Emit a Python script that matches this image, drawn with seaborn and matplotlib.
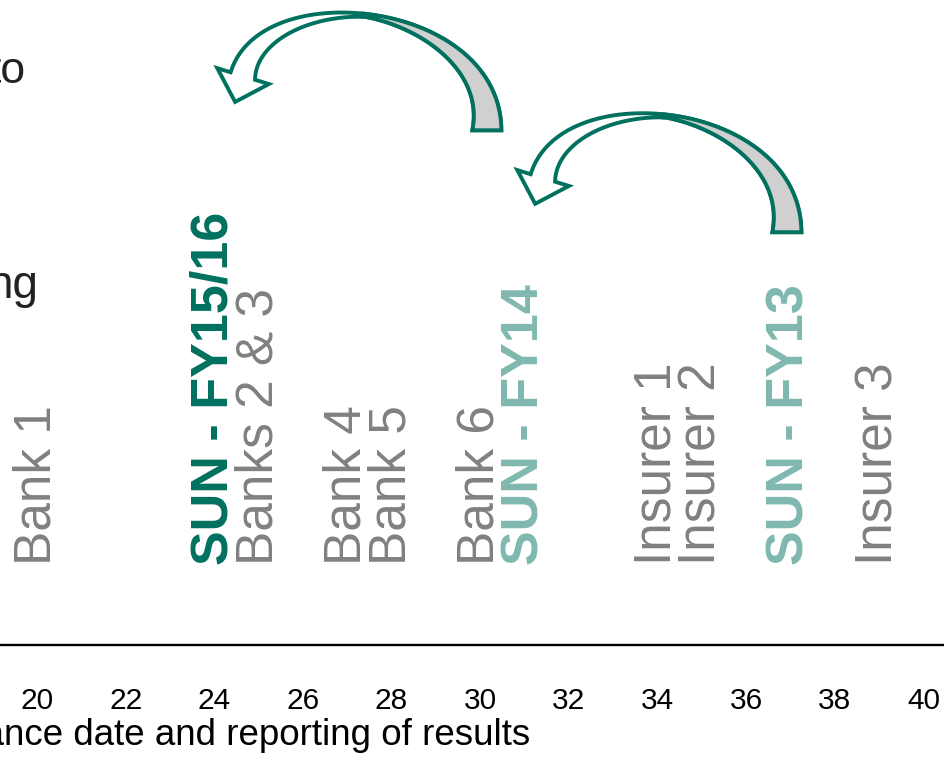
import numpy as np
import matplotlib.pyplot as plt
import seaborn as sns
from matplotlib.patches import Polygon

# reporting gap (days) for each company
labels = ["Bank 1", "SUN - FY15/16", "Banks 2 & 3", "Bank 4", "Bank 5", "Bank 6",
          "SUN - FY14", "Insurer 1", "Insurer 2", "SUN - FY13", "Insurer 3"]
days = [20, 24, 25, 27, 28, 30, 31, 34, 35, 37, 39]
groups = ["peer", "sun_now", "peer", "peer", "peer", "peer",
          "sun_prev", "peer", "peer", "sun_prev", "peer"]
tick_days = list(range(20, 41, 2))

# curved arrows (tail day, head day, tail/head/top heights in axes units)
arrow_tail_x = [30.15, 36.92]
arrow_head_x = [24.65, 31.42]
arrow_tail_y = [0.798, 0.640]
arrow_head_y = [0.882, 0.724]
arrow_top_y = [0.955, 0.799]

colors = {"peer": "#808080", "sun_now": "#00705F", "sun_prev": "#80B8B0"}
teal = "#00705F"

sns.set_theme(style="white")
plt.rcParams["font.family"] = ["Liberation Sans", "DejaVu Sans"]

fig = plt.figure(figsize=(9.45, 7.59), dpi=100)
ax = fig.add_axes([-0.89884, 0.15020, 1.92286, 0.84980])
ax.set_xlim(0, 41)
ax.set_ylim(0, 1)

for x, lab, g in zip(days, labels, groups):
    ax.text(x, 0.124, lab, rotation=90, ha="center", va="bottom",
            fontsize=37.5 if g != "peer" else 37,
            color=colors[g], fontweight="normal" if g == "peer" else "bold")

ax.set_xticks(tick_days)
ax.set_xticklabels([str(d) for d in tick_days])
ax.tick_params(axis="x", length=0, pad=30, labelsize=21.5, labelcolor="black")
ax.set_yticks([])
sns.despine(ax=ax, left=True)
ax.spines["bottom"].set_color("black")
ax.spines["bottom"].set_linewidth(1.7)

ax.set_xlabel("Days between balance date and reporting of results",
              fontsize=26.5, color="black", ha="right")
ax.xaxis.set_label_coords(0.7591, -0.1125)

# fragments of the side commentary box
fig.text(26 / 945, 1 - 83 / 759, "to", ha="right", va="baseline",
         fontsize=32, color="#222222")
fig.text(38 / 945, 1 - 298 / 759, "ng", ha="right", va="baseline",
         fontsize=33, color="#222222")


def curved_arrow(ax, x0, y0, x1, y1, ytop):
    to_disp = ax.transData
    p0 = to_disp.transform((x0, y0))
    p3 = to_disp.transform((x1, y1))
    peak = to_disp.transform((x0, ytop))[1]
    d = np.array([-0.294, -0.956])
    k = (8 * peak - 4 * p0[1] - 4 * p3[1]) / 6.768
    p1 = p0 + np.array([0, 1.3 * k])
    p2 = p3 - k * d
    t = np.linspace(0, 1, 120)[:, None]
    b = (1 - t) ** 3 * p0 + 3 * (1 - t) ** 2 * t * p1 + 3 * (1 - t) * t ** 2 * p2 + t ** 3 * p3
    db = 3 * (1 - t) ** 2 * (p1 - p0) + 6 * (1 - t) * t * (p2 - p1) + 3 * t ** 2 * (p3 - p2)
    tan = db / np.linalg.norm(db, axis=1)[:, None]
    nrm = np.column_stack([tan[:, 1], -tan[:, 0]])
    tt = t[:, 0]
    tm = 0.53
    h_out = 14.5 - 1.5 * tt
    w = np.where(tt < tm,
                 3 + 26 * ((tm - tt) / tm) ** 1.2,
                 3 + 22.5 * ((tt - tm) / (1 - tm)) ** 1.2)
    outer = b + nrm * h_out[:, None]
    inner = b + nrm * (h_out - w)[:, None]
    end, te, ne = b[-1], tan[-1], nrm[-1]
    head = np.array([end + ne * 27, end + te * 27, end - ne * 27])
    full = np.vstack([outer, head, inner[::-1]])
    m = np.searchsorted(tt, tm)
    band = np.vstack([outer[:m + 1], inner[:m + 1][::-1]])
    inv = ax.transData.inverted()
    ax.add_patch(Polygon(inv.transform(full), closed=True, facecolor="white",
                         edgecolor=teal, lw=2.8, joinstyle="miter", clip_on=False))
    ax.add_patch(Polygon(inv.transform(band), closed=True, facecolor="#D0D0D0",
                         edgecolor=teal, lw=2.8, joinstyle="miter", clip_on=False))


for x0, y0, x1, y1, yt in zip(arrow_tail_x, arrow_tail_y, arrow_head_x,
                              arrow_head_y, arrow_top_y):
    curved_arrow(ax, x0, y0, x1, y1, yt)

fig.savefig("out.png", dpi=100)
